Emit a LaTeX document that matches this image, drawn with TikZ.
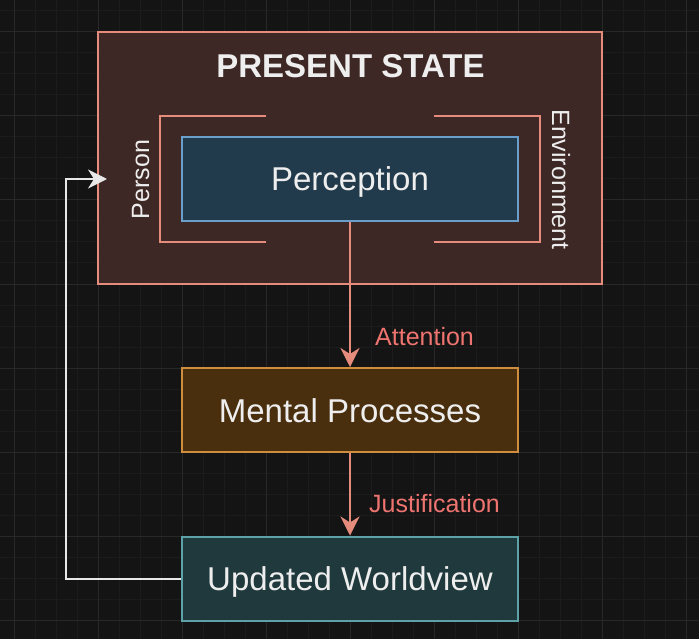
\documentclass[tikz,border=0pt]{standalone}
\usepackage{fontspec}
\setmainfont{Liberation Sans}
\usetikzlibrary{arrows.meta}
\definecolor{bg}{HTML}{141414}
\definecolor{gridminor}{HTML}{1C1C1C}
\definecolor{gridmajor}{HTML}{282828}
\definecolor{statefill}{HTML}{3D2825}
\definecolor{statedraw}{HTML}{E58C7C}
\definecolor{percfill}{HTML}{213B4C}
\definecolor{percdraw}{HTML}{6A9FCC}
\definecolor{mentfill}{HTML}{4A2F0F}
\definecolor{mentdraw}{HTML}{CF8E3E}
\definecolor{worldfill}{HTML}{1F393C}
\definecolor{worlddraw}{HTML}{5CA2A8}
\definecolor{lblcol}{HTML}{EE7470}
\definecolor{txtcol}{HTML}{EEEEEE}
\definecolor{backcol}{HTML}{E8E8E8}
\begin{document}
\begin{tikzpicture}[x=1pt,y=-1pt,
  minorline/.style={gridminor,line width=1pt},
  majorline/.style={gridmajor,line width=1pt},
  boxstyle/.style={rectangle,line width=2pt,minimum width=336pt,minimum height=84pt,
    inner sep=0pt,text=txtcol,font=\fontsize{33}{40}\selectfont,
    text height=24pt,text depth=0pt},
  bracketline/.style={statedraw,line width=2pt},
  flow/.style={statedraw,line width=2pt,-{Stealth[length=19pt,width=19pt,inset=6pt]}},
  backflow/.style={backcol,line width=2pt,-{Stealth[length=19pt,width=19pt,inset=6pt]}},
  edgelabel/.style={text=lblcol,font=\fontsize{25}{30}\selectfont,inner sep=0pt,anchor=base west},
  sidelabel/.style={text=txtcol,font=\fontsize{25}{30}\selectfont,inner sep=0pt,anchor=base}
]
\fill[bg] (0,0) rectangle (699,639);
\useasboundingbox (0,0) rectangle (699,639);
% grid
\foreach \gx in {-7,14,...,700} \draw[minorline] (\gx,0) -- (\gx,639);
\foreach \gy in {11,32,...,640} \draw[minorline] (0,\gy) -- (699,\gy);
\foreach \gx in {14,98,...,700} \draw[majorline] (\gx,0) -- (\gx,639);
\foreach \gy in {32,116,...,640} \draw[majorline] (0,\gy) -- (699,\gy);
% outer state box
\node[rectangle,draw=statedraw,fill=statefill,line width=2pt,minimum width=504pt,minimum height=252pt,inner sep=0pt] (state) at (350,158) {};
\node[text=txtcol,font=\bfseries\fontsize{33}{40}\selectfont,inner sep=0pt,anchor=base] (title) at (350.5,78) {PRESENT STATE};
% brackets
\draw[bracketline] (266,116) -| (160,242) -- (266,242);
\draw[bracketline] (434,116) -| (540,242) -- (434,242);
\node[sidelabel,rotate=90] (person) at (149,179.5) {Person};
\node[sidelabel,rotate=-90] (env) at (552,179.5) {Environment};
% boxes
\node[boxstyle,draw=percdraw,fill=percfill] (perc) at (350,179) {Perception};
\node[boxstyle,draw=mentdraw,fill=mentfill] (mental) at (350,410) {Mental Processes};
\node[boxstyle,draw=worlddraw,fill=worldfill] (world) at (350,578.5) {Updated Worldview};
% connectors
\draw[flow] (perc.south) -- (mental.north);
\node[edgelabel] (attn) at (375,345) {Attention};
\draw[flow] (mental.south) -- (world.north);
\node[edgelabel] (just) at (369,512.5) {Justification};
\coordinate (fbcorner) at (66,179);
\coordinate (fbend) at (107,179);
\draw[backflow] (world.west) -| (fbcorner) -- (fbend);
\end{tikzpicture}
\end{document}
